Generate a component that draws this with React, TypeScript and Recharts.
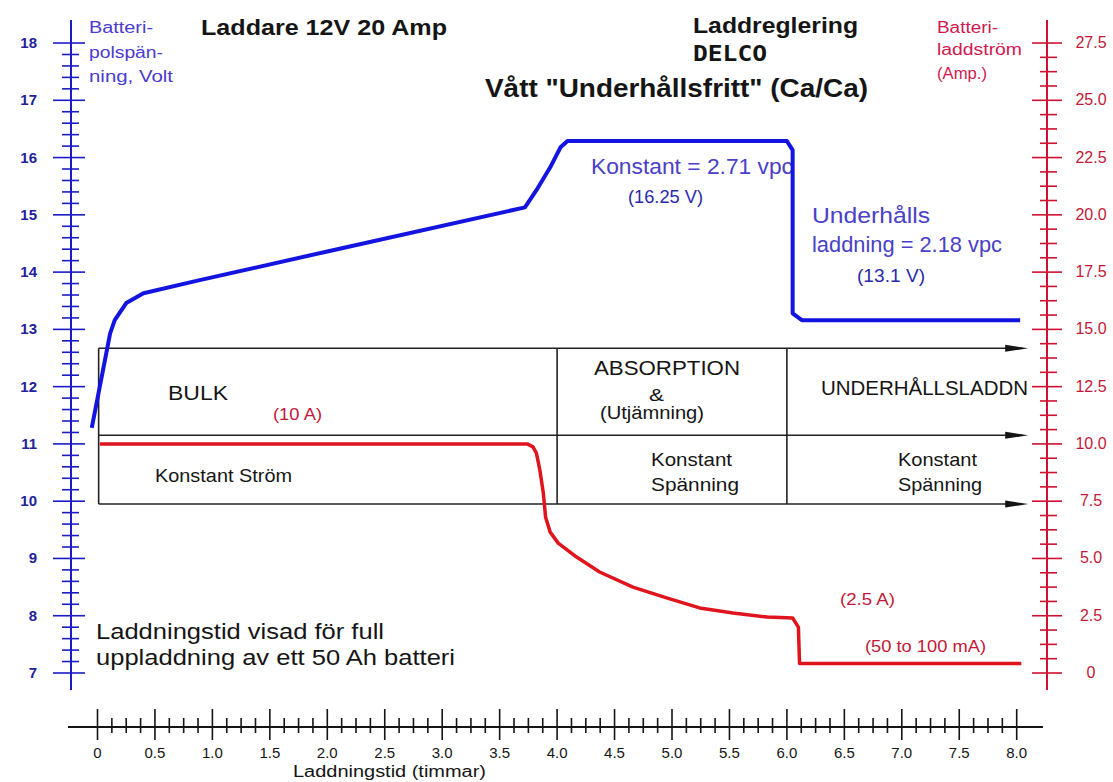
import { ComposedChart, Line, XAxis, YAxis, ReferenceLine, ReferenceDot, Customized } from 'recharts';

// batteripolspänning (V) mot laddningstid (timmar)
const voltTime = [-0.05, 0.02, 0.11, 0.15, 0.25, 0.4, 0.89, 2.0, 3.72, 3.82, 3.94, 4.03, 4.09, 6.0, 6.05, 6.05, 6.13, 8.03];
const voltValues = [11.28, 12.0, 12.93, 13.16, 13.46, 13.63, 13.86, 14.36, 15.13, 15.43, 15.83, 16.18, 16.29, 16.29, 16.13, 13.28, 13.16, 13.16];

// batteriladdström (A) mot laddningstid (timmar)
const ampTime = [0.02, 3.74, 3.79, 3.82, 3.85, 3.88, 3.9, 3.94, 4.01, 4.17, 4.37, 4.66, 4.96, 5.24, 5.53, 5.83, 6.05, 6.1, 6.11, 8.04];
const ampValues = [10.0, 10.0, 9.87, 9.6, 8.86, 7.86, 6.8, 6.15, 5.67, 5.06, 4.41, 3.75, 3.27, 2.84, 2.62, 2.44, 2.4, 2.0, 0.42, 0.42];

const voltMajor = [7, 8, 9, 10, 11, 12, 13, 14, 15, 16, 17, 18];
const ampMajor = [0, 2.5, 5, 7.5, 10, 12.5, 15, 17.5, 20, 22.5, 25, 27.5];
const timeMajor = [0, 0.5, 1, 1.5, 2, 2.5, 3, 3.5, 4, 4.5, 5, 5.5, 6, 6.5, 7, 7.5, 8];

// faserna: rutans kanter (timmar) och nivåer (volt)
const phaseEdges = [0.01, 4, 6];
const boxLevels = [12.67, 11.15, 9.95];
const arrowTip = 8.1;

const X_MIN = -0.2306;
const X_MAX = 8.2637;
const V_MIN = 6.057;
const V_MAX = 18.402;
const A_MIN = -2.357;
const A_MAX = 28.505;

const SANS = '"Liberation Sans", Arial, sans-serif';
const BLUE_AXIS = '#1c1cc4';
const BLUE_TXT = '#22229a';
const RED_AXIS = '#d01030';
const RED_TXT = '#c41838';
const INK = '#151515';

const subdivide = (major: number[], parts: number) => {
  const out: number[] = [];
  major.forEach((m, i) => {
    out.push(m);
    if (i < major.length - 1) {
      const step = (major[i + 1] - m) / parts;
      for (let k = 1; k < parts; k++) out.push(+(m + k * step).toFixed(4));
    }
  });
  return out;
};

const isMajor = (list: number[], v: number) => list.some((m) => Math.abs(m - v) < 1e-6);

const voltData = voltTime.map((t, i) => ({ t, v: voltValues[i] }));
const ampData = ampTime.map((t, i) => ({ t, a: ampValues[i] }));

function LeftTick({ x, y, payload }: any) {
  const major = isMajor(voltMajor, payload.value);
  return (
    <g>
      <line x1={x - (major ? 18 : 9)} x2={x + (major ? 14 : 8)} y1={y} y2={y} stroke={BLUE_AXIS} strokeWidth={1.6} />
      {major && (
        <text x={37} y={y + 5} textAnchor="end" fontSize={15} fontWeight={700} fill={BLUE_TXT} fontFamily={SANS}>
          {payload.value}
        </text>
      )}
    </g>
  );
}

function RightTick({ x, y, payload }: any) {
  const major = isMajor(ampMajor, payload.value);
  const v = payload.value;
  return (
    <g>
      <line x1={x - (major ? 15 : 7)} x2={x + (major ? 15 : 10)} y1={y} y2={y} stroke={RED_AXIS} strokeWidth={1.6} />
      {major && (
        <text x={x + 44} y={y + 5} textAnchor="middle" fontSize={16} fill={RED_TXT} fontFamily={SANS}>
          {v === 0 ? '0' : v.toFixed(1)}
        </text>
      )}
    </g>
  );
}

function BottomTick({ x, y, payload }: any) {
  const major = isMajor(timeMajor, payload.value);
  const v = payload.value;
  return (
    <g>
      <line x1={x} x2={x} y1={y - (major ? 18 : 9)} y2={y + (major ? 13 : 6)} stroke={INK} strokeWidth={1.6} />
      {major && (
        <text x={x} y={y + 31} textAnchor="middle" fontSize={15} fill={INK} fontFamily={SANS}>
          {v === 0 ? '0' : v.toFixed(1)}
        </text>
      )}
    </g>
  );
}

function T({ x, y, w, size, color = INK, bold = false, family = SANS, children }: any) {
  return (
    <text
      x={x}
      y={y}
      fontSize={size}
      fill={color}
      fontWeight={bold ? 700 : 400}
      fontFamily={family}
      textLength={w}
      lengthAdjust="spacingAndGlyphs"
    >
      {children}
    </text>
  );
}

function Annotations() {
  const blue = '#4a40c8';
  const blueDark = '#2a2aa8';
  return (
    <g>
      <T x={201} y={35} w={246} size={22} bold>Laddare 12V 20 Amp</T>
      <T x={693} y={33} w={165} size={22} bold>Laddreglering</T>
      <T x={693} y={61} w={74} size={21} bold family='"DejaVu Sans Mono", monospace'>DELCO</T>
      <T x={485} y={97} w={383} size={26} bold>Vått "Underhållsfritt" (Ca/Ca)</T>

      <T x={89} y={33} w={64} size={16} color="#4b3bd0">Batteri-</T>
      <T x={89} y={58} w={74} size={16} color="#4b3bd0">polspän-</T>
      <T x={89} y={82} w={84} size={16} color="#4b3bd0">ning, Volt</T>

      <T x={937} y={33} w={61} size={16} color="#d01850">Batteri-</T>
      <T x={937} y={55} w={85} size={16} color="#d01850">laddström</T>
      <T x={937} y={79} w={50} size={16} color="#d01850">(Amp.)</T>

      <T x={591} y={174} w={202} size={22} color={blue}>Konstant = 2.71 vpc</T>
      <T x={628} y={203} w={75} size={18} color={blueDark}>(16.25 V)</T>
      <T x={812} y={223} w={118} size={22} color={blue}>Underhålls</T>
      <T x={812} y={252} w={190} size={22} color={blue}>laddning = 2.18 vpc</T>
      <T x={857} y={282} w={68} size={18} color={blueDark}>(13.1 V)</T>

      <T x={273} y={420} w={49} size={17} color={RED_TXT}>(10 A)</T>
      <T x={840} y={605} w={55} size={17} color={RED_TXT}>(2.5 A)</T>
      <T x={865} y={652} w={121} size={17} color={RED_TXT}>(50 to 100 mA)</T>

      <T x={168} y={400} w={60} size={21}>BULK</T>
      <T x={155} y={482} w={137} size={19}>Konstant Ström</T>
      <T x={594} y={375} w={146} size={21}>ABSORPTION</T>
      <T x={649} y={401} w={15} size={17}>&amp;</T>
      <T x={600} y={419} w={104} size={18}>(Utjämning)</T>
      <T x={821} y={395} w={207} size={21}>UNDERHÅLLSLADDN</T>
      <T x={651} y={466} w={81} size={19}>Konstant</T>
      <T x={651} y={491} w={88} size={19}>Spänning</T>
      <T x={898} y={466} w={79} size={19}>Konstant</T>
      <T x={898} y={491} w={84} size={19}>Spänning</T>

      <T x={96} y={639} w={288} size={22}>Laddningstid visad för full</T>
      <T x={96} y={665} w={359} size={22}>uppladdning av ett 50 Ah batteri</T>
      <T x={293} y={777} w={193} size={16}>Laddningstid (timmar)</T>
    </g>
  );
}

const arrowShape = (p: any) => (
  <path d={`M${p.cx - 23},${p.cy - 3.5} L${p.cx},${p.cy} L${p.cx - 23},${p.cy + 3.5} Z`} fill={INK} />
);

export default function App() {
  const boxLeft = phaseEdges[0];
  const top = boxLevels[0];
  const bottom = boxLevels[boxLevels.length - 1];
  return (
    <div style={{ position: 'absolute', left: 0, top: 0, width: 1113, height: 782, background: '#fff' }}>
      <ComposedChart width={1113} height={782} margin={{ top: 20, right: 6, bottom: 25, left: 11 }}>
        <XAxis
          type="number"
          dataKey="t"
          domain={[X_MIN, X_MAX]}
          allowDataOverflow
          ticks={subdivide(timeMajor, 4)}
          interval={0}
          height={30}
          tickSize={0}
          tickMargin={0}
          tickLine={false}
          axisLine={false}
          tick={BottomTick}
        />
        <YAxis
          yAxisId="v"
          type="number"
          domain={[V_MIN, V_MAX]}
          allowDataOverflow
          ticks={subdivide(voltMajor, 5)}
          interval={0}
          width={60}
          tickSize={0}
          tickMargin={0}
          tickLine={false}
          axisLine={false}
          tick={LeftTick}
        />
        <YAxis
          yAxisId="a"
          orientation="right"
          type="number"
          domain={[A_MIN, A_MAX]}
          allowDataOverflow
          ticks={subdivide(ampMajor, 4)}
          interval={0}
          width={60}
          tickSize={0}
          tickMargin={0}
          tickLine={false}
          axisLine={false}
          tick={RightTick}
        />

        {/* axellinjer */}
        <ReferenceLine yAxisId="v" ifOverflow="visible" stroke={BLUE_AXIS} strokeWidth={2}
          segment={[{ x: X_MIN, y: 6.703 }, { x: X_MIN, y: V_MAX }]} />
        <ReferenceLine yAxisId="a" ifOverflow="visible" stroke={RED_AXIS} strokeWidth={2}
          segment={[{ x: X_MAX, y: -0.742 }, { x: X_MAX, y: A_MAX }]} />
        <ReferenceLine yAxisId="v" ifOverflow="visible" stroke={INK} strokeWidth={1.8}
          segment={[{ x: -0.2567, y: V_MIN }, { x: 8.229, y: V_MIN }]} />

        {/* faserutan */}
        {boxLevels.map((lv) => (
          <ReferenceLine key={'h' + lv} yAxisId="v" ifOverflow="visible" stroke="#222" strokeWidth={1.6}
            segment={[{ x: boxLeft, y: lv }, { x: arrowTip - 0.05, y: lv }]} />
        ))}
        {phaseEdges.map((t) => (
          <ReferenceLine key={'v' + t} yAxisId="v" ifOverflow="visible" stroke="#222" strokeWidth={1.6}
            segment={[{ x: t, y: bottom }, { x: t, y: top }]} />
        ))}
        {boxLevels.map((lv) => (
          <ReferenceDot key={'p' + lv} yAxisId="v" x={arrowTip} y={lv} ifOverflow="visible" shape={arrowShape} />
        ))}

        <Line
          data={voltData}
          yAxisId="v"
          dataKey="v"
          type="linear"
          stroke="#1414e0"
          strokeWidth={4}
          strokeLinejoin="round"
          dot={false}
          activeDot={false}
          isAnimationActive={false}
        />
        <Line
          data={ampData}
          yAxisId="a"
          dataKey="a"
          type="linear"
          stroke="#e0141c"
          strokeWidth={3.5}
          strokeLinejoin="round"
          dot={false}
          activeDot={false}
          isAnimationActive={false}
        />

        <Customized component={Annotations} />
      </ComposedChart>
    </div>
  );
}
